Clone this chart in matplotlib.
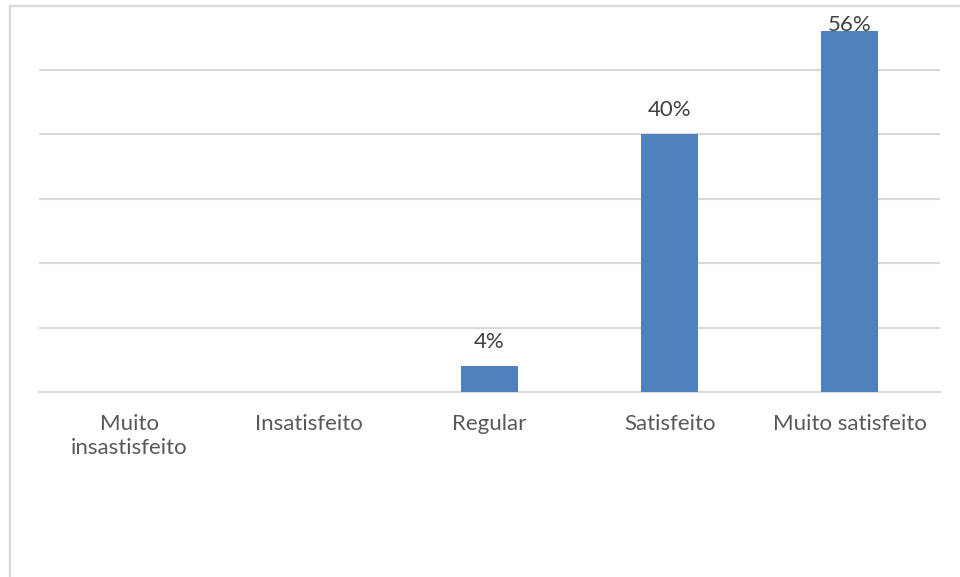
import matplotlib.pyplot as plt
from matplotlib.lines import Line2D

# data
categories = ["Muito\ninsastisfeito", "Insatisfeito", "Regular", "Satisfeito", "Muito satisfeito"]
values = [0.0, 0.0, 0.04, 0.40, 0.56]
labels = ["", "", "4%", "40%", "56%"]

plt.rcParams['font.family'] = ['Lato', 'DejaVu Sans']

fig = plt.figure(figsize=(9.6, 5.77), dpi=100)
ax = fig.add_axes([39 / 960, 185 / 577, 901 / 960, 386.5 / 577])

x = range(len(categories))
ax.bar(x, values, width=0.316, color="#4F81BD", zorder=3)

for i, (v, lab) in enumerate(zip(values, labels)):
    if lab:
        ax.text(i, min(v + 0.037, 0.57), lab, ha="center", va="center",
                fontsize=16, color="#404040")

ax.set_xlim(-0.5, len(categories) - 0.5)
ax.set_ylim(0, 0.6)
ax.set_yticks([0.1, 0.2, 0.3, 0.4, 0.5])
ax.set_yticklabels([])
ax.grid(axis="y", color="#D9D9D9", linewidth=1.5, zorder=0)
ax.axhline(0, color="#D9D9D9", linewidth=1.5, zorder=0, clip_on=False)
ax.set_xticks(list(x))
ax.set_xticklabels(categories, fontsize=16, color="#595959", linespacing=1.25)
ax.tick_params(axis="both", length=0)
ax.tick_params(axis="x", pad=16)
ax.tick_params(axis="y", left=False)
for s in ax.spines.values():
    s.set_visible(False)

# chart frame (left and top edges only visible)
fig.add_artist(Line2D([9.5 / 960, 9.5 / 960], [0, 1 - 5.5 / 577],
                      transform=fig.transFigure, color="#D9D9D9", linewidth=1.6))
fig.add_artist(Line2D([9.5 / 960, 1], [1 - 5.5 / 577, 1 - 5.5 / 577],
                      transform=fig.transFigure, color="#D9D9D9", linewidth=1.6))

fig.savefig("out.png", dpi=100)
